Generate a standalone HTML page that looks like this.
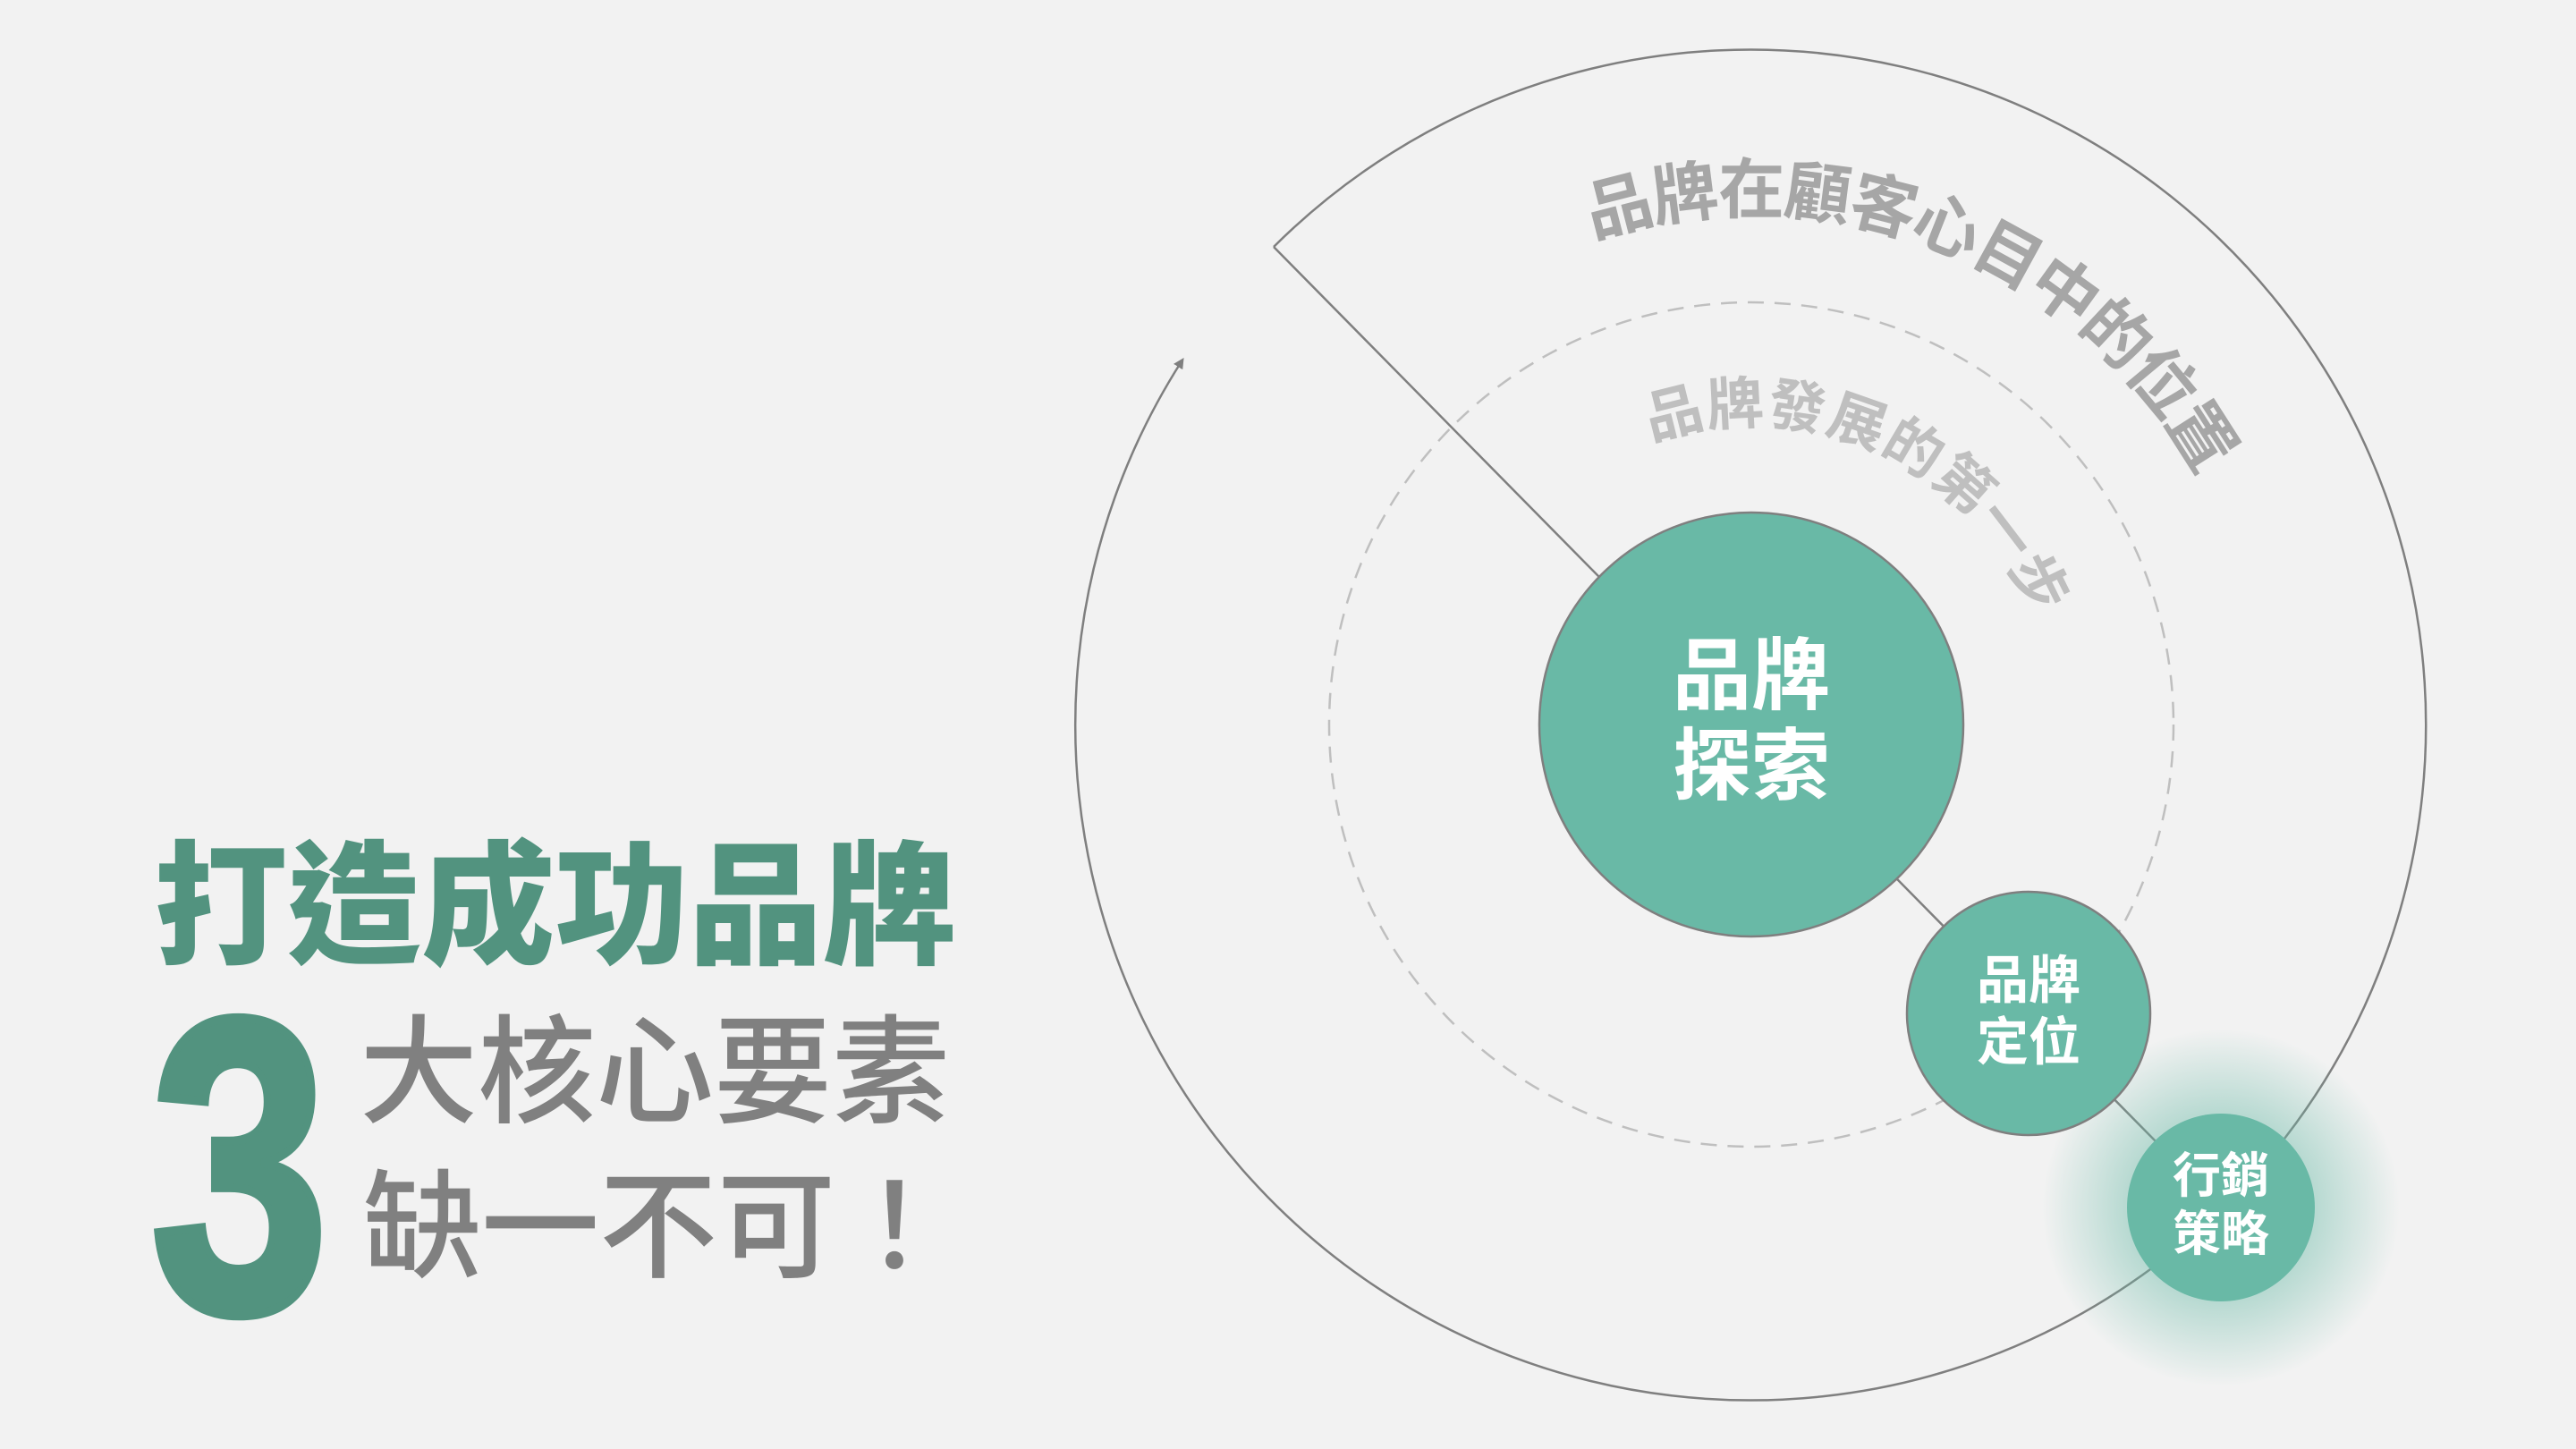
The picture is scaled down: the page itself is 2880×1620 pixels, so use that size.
<!DOCTYPE html>
<html><head><meta charset="utf-8"><style>
html,body{margin:0;padding:0;background:#f2f2f2;}
svg{display:block;}
</style></head><body>
<svg width="2880" height="1620" viewBox="0 0 2880 1620" xmlns="http://www.w3.org/2000/svg">
<defs>
<radialGradient id="glow" cx="0.5" cy="0.5" r="0.5">
<stop offset="0.5" stop-color="#69b9a6" stop-opacity="0.45"/>
<stop offset="1" stop-color="#69b9a6" stop-opacity="0"/>
</radialGradient>
<marker id="arr" markerWidth="12" markerHeight="12" refX="6" refY="5" orient="auto" markerUnits="userSpaceOnUse" viewBox="0 0 10 10">
<path d="M0,0 L10,5 L0,10 z" fill="#7f7f7f"/>
</marker>
<path id="outerP" d="M1781,266 A572,572 0 1 1 1386,810"/>
<path id="innerP" d="M1846,493 A336,336 0 1 1 1622,810"/>
</defs>
<rect width="2880" height="1620" fill="#f2f2f2"/>

<path d="M1424,276 A755,755 0 1 1 1321,404" fill="none" stroke="#7f7f7f" stroke-width="2.5" marker-end="url(#arr)"/>
<circle cx="1958" cy="810" r="472" fill="none" stroke="#bfbfbf" stroke-width="2.5" stroke-dasharray="18 12"/>
<line x1="1424" y1="276" x2="2483" y2="1350" stroke="#7f7f7f" stroke-width="2.5"/>

<text font-family="'Liberation Sans','Noto Sans CJK TC',sans-serif" font-size="74" fill="#a6a6a6" font-weight="700">
<textPath href="#outerP" textLength="790" lengthAdjust="spacing">品牌在顧客心目中的位置</textPath></text>
<text font-family="'Liberation Sans','Noto Sans CJK TC',sans-serif" font-size="64" fill="#bfbfbf" font-weight="700">
<textPath href="#innerP" textLength="520" lengthAdjust="spacing">品牌發展的第一步</textPath></text>

<circle cx="2483" cy="1350" r="200" fill="url(#glow)"/>

<circle cx="1958" cy="810" r="237" fill="#69b9a6" stroke="#7f7f7f" stroke-width="2.5"/>
<circle cx="2268" cy="1133" r="136" fill="#69b9a6" stroke="#7f7f7f" stroke-width="2.5"/>
<circle cx="2483" cy="1350" r="105" fill="#69b9a6"/>

<g font-family="'Liberation Sans','Noto Sans CJK TC',sans-serif" font-weight="700" fill="#ffffff" text-anchor="middle">
<text x="1958" y="786" font-size="88">品牌</text>
<text x="1958" y="887" font-size="88">探索</text>
<text x="2268" y="1116" font-size="58">品牌</text>
<text x="2268" y="1185" font-size="58">定位</text>
<text x="2483" y="1333" font-size="54">行銷</text>
<text x="2483" y="1398" font-size="54">策略</text>
</g>

<text x="172" y="1066" font-family="'Liberation Sans','Noto Sans CJK TC',sans-serif" font-weight="900" font-size="150" fill="#52937f" textLength="897" lengthAdjust="spacingAndGlyphs">打造成功品牌</text>
<text x="168" y="1466" font-family="'Liberation Sans',sans-serif" font-weight="700" font-size="470" fill="#52937f" textLength="200" lengthAdjust="spacingAndGlyphs" stroke="#52937f" stroke-width="10">3</text>
<text x="402" y="1245" font-family="'Liberation Sans','Noto Sans CJK TC',sans-serif" font-weight="500" font-size="132" fill="#808080" textLength="660" lengthAdjust="spacingAndGlyphs">大核心要素</text>
<text x="406" y="1418" font-family="'Liberation Sans','Noto Sans CJK TC',sans-serif" font-weight="500" font-size="132" fill="#808080" textLength="660" lengthAdjust="spacingAndGlyphs">缺一不可！</text>
</svg>
</body></html>
